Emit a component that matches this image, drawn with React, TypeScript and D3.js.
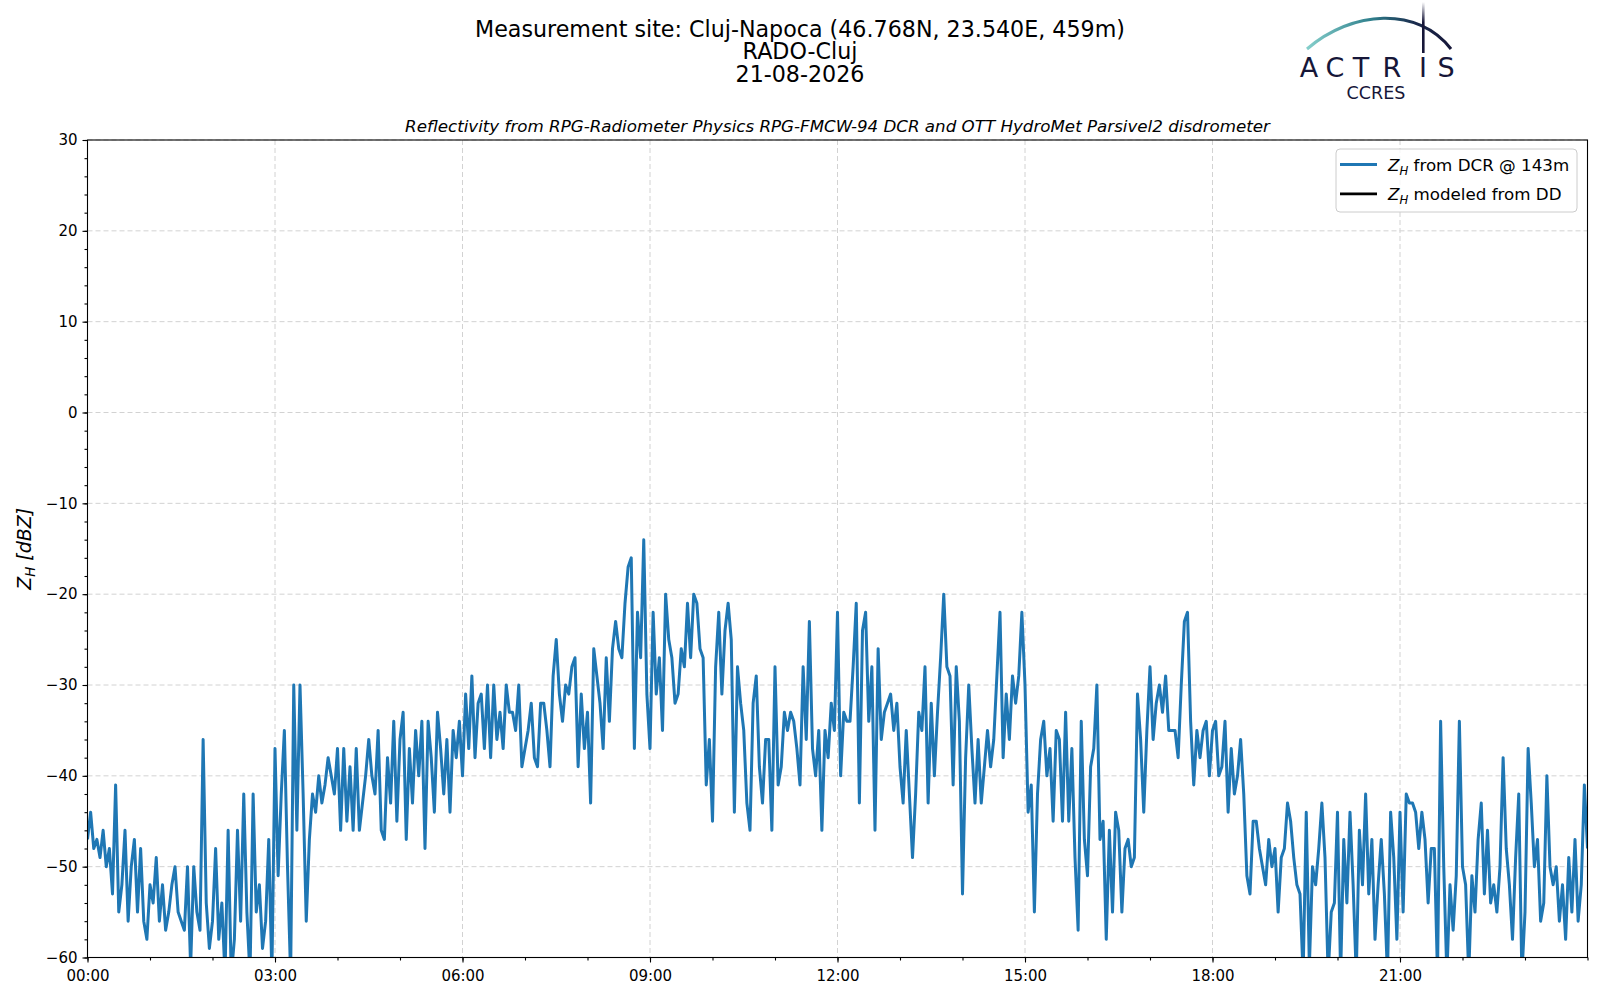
import { useEffect, useRef } from 'react';
import * as d3 from 'd3';

// Z_H from the DCR at 143 m, one value every 3 minutes
const zh00to03 = [
  -47, -44, -48, -47, -49, -46, -50, -48, -53, -41,
  -55, -52, -46, -56, -50, -47, -55, -48, -56, -58,
  -52, -54, -49, -56, -52, -57, -55, -52, -50, -55,
  -56, -57, -50, -61, -50, -55, -57, -36, -54, -59,
  -56, -48, -58, -54, -62, -46, -62, -58, -46, -56,
  -42, -55, -62, -42, -55, -52, -59, -56, -47, -62,
];
const zh03to06 = [
  -37, -51, -42, -35, -50, -62, -30, -46, -30, -42,
  -56, -47, -42, -44, -40, -43, -41, -38, -40, -42,
  -37, -46, -37, -45, -39, -46, -37, -46, -43, -40,
  -36, -40, -42, -35, -46, -47, -38, -43, -34, -45,
  -36, -33, -47, -37, -43, -35, -40, -34, -48, -34,
  -38, -44, -33, -37, -42, -36, -44, -35, -38, -34,
];
const zh06to09 = [
  -40, -31, -37, -29, -38, -32, -31, -37, -30, -38,
  -30, -36, -33, -37, -30, -33, -33, -35, -30, -39,
  -37, -35, -32, -38, -39, -32, -32, -35, -39, -29,
  -25, -31, -34, -30, -31, -28, -27, -39, -31, -37,
  -33, -43, -26, -29, -32, -37, -27, -34, -26, -23,
  -26, -27, -21, -17, -16, -37, -22, -27, -14, -31,
];
const zh09to12 = [
  -37, -22, -31, -27, -35, -20, -25, -27, -32, -31,
  -26, -28, -21, -27, -20, -21, -26, -27, -41, -36,
  -45, -28, -22, -31, -24, -21, -25, -44, -28, -32,
  -35, -43, -46, -32, -29, -39, -43, -36, -36, -46,
  -28, -41, -39, -33, -35, -33, -34, -37, -41, -28,
  -36, -23, -37, -40, -35, -46, -35, -38, -32, -35,
];
const zh12to15 = [
  -22, -40, -33, -34, -34, -28, -21, -43, -24, -22,
  -34, -28, -46, -26, -36, -33, -32, -31, -35, -32,
  -39, -43, -35, -42, -49, -42, -33, -35, -28, -43,
  -32, -40, -33, -27, -20, -28, -29, -41, -28, -34,
  -53, -38, -30, -37, -43, -36, -43, -39, -35, -39,
  -36, -29, -22, -38, -31, -36, -29, -32, -29, -22,
];
const zh15to18 = [
  -30, -44, -41, -55, -42, -36, -34, -40, -37, -45,
  -35, -36, -45, -33, -45, -37, -49, -57, -34, -47,
  -51, -39, -37, -30, -47, -45, -58, -46, -55, -44,
  -46, -55, -48, -47, -50, -49, -31, -36, -44, -35,
  -28, -36, -32, -30, -33, -29, -35, -35, -35, -38,
  -30, -23, -22, -34, -41, -35, -38, -35, -34, -40,
];
const zh18to21 = [
  -35, -34, -40, -39, -34, -44, -37, -42, -40, -36,
  -42, -51, -53, -45, -45, -48, -50, -52, -47, -50,
  -48, -55, -49, -48, -43, -45, -49, -52, -53, -62,
  -44, -61, -50, -52, -48, -43, -49, -62, -55, -54,
  -44, -62, -47, -54, -44, -52, -62, -46, -52, -42,
  -53, -47, -58, -52, -47, -53, -62, -44, -49, -58,
];
const zh21to24 = [
  -44, -55, -42, -43, -43, -44, -48, -44, -47, -54,
  -48, -48, -62, -34, -50, -62, -52, -57, -51, -34,
  -50, -52, -62, -51, -55, -47, -43, -53, -46, -54,
  -52, -55, -50, -38, -48, -52, -58, -49, -42, -62,
  -55, -37, -43, -50, -47, -56, -54, -40, -50, -52,
  -50, -56, -52, -58, -49, -55, -47, -56, -52, -41,
  -48,
];
const stepHours = 0.05;

// Z_H modeled from the disdrometer: no values on this day
const zhModelDD: number[] = [];

const yTicks = [30, 20, 10, 0, -10, -20, -30, -40, -50, -60];
const xTickHours = [0, 3, 6, 9, 12, 15, 18, 21];
const xTickLabels = ['00:00', '03:00', '06:00', '09:00', '12:00', '15:00', '18:00', '21:00'];

const titleLines = [
  'Measurement site: Cluj-Napoca (46.768N, 23.540E, 459m)',
  'RADO-Cluj',
  '21-08-2026',
];
const subtitle = 'Reflectivity from RPG-Radiometer Physics RPG-FMCW-94 DCR and OTT HydroMet Parsivel2 disdrometer';
const legendItems = [
  { label: ' from DCR @ 143m', color: '#1f77b4' },
  { label: ' modeled from DD', color: '#000000' },
];
const logoLetters = ['A', 'C', 'T', 'R', 'I', 'S'];
const logoLetterX = [1309, 1335, 1361, 1392, 1423, 1446];

export default function App() {
  const svgRef = useRef<SVGSVGElement | null>(null);

  useEffect(() => {
    if (!svgRef.current) return;
    const svg = d3.select(svgRef.current);
    svg.selectAll('*').remove();

    const width = 1600;
    const height = 1000;
    const margin = { top: 140, right: 12.5, bottom: 42.5, left: 87.5 };
    const font = "'DejaVu Sans', sans-serif";

    const series = [
      ...zh00to03, ...zh03to06, ...zh06to09, ...zh09to12,
      ...zh12to15, ...zh15to18, ...zh18to21, ...zh21to24,
    ];

    const x = d3.scaleLinear().domain([0, 24]).range([margin.left, width - margin.right]);
    const y = d3.scaleLinear().domain([-60, 30]).range([height - margin.bottom, margin.top]);

    svg.attr('width', width).attr('height', height).style('font-family', font);
    svg.append('rect').attr('width', width).attr('height', height).attr('fill', 'white');

    const defs = svg.append('defs');
    defs.append('clipPath').attr('id', 'plot-clip')
      .append('rect')
      .attr('x', x(0)).attr('y', y(30))
      .attr('width', x(24) - x(0)).attr('height', y(-60) - y(30));

    // --- GRID ---
    const grid = svg.append('g')
      .attr('stroke', '#d2d2d2')
      .attr('stroke-width', 1)
      .attr('stroke-dasharray', '5,3');
    grid.selectAll('line.gx').data(xTickHours).join('line')
      .attr('x1', d => x(d)).attr('x2', d => x(d))
      .attr('y1', y(30)).attr('y2', y(-60));
    grid.selectAll('line.gy').data(yTicks).join('line')
      .attr('x1', x(0)).attr('x2', x(24))
      .attr('y1', d => y(d)).attr('y2', d => y(d));

    // --- SERIES ---
    const line = d3.line<number>()
      .x((_, i) => x(i * stepHours))
      .y(d => y(d));
    svg.append('path')
      .datum(series)
      .attr('clip-path', 'url(#plot-clip)')
      .attr('fill', 'none')
      .attr('stroke', '#1f77b4')
      .attr('stroke-width', 3)
      .attr('stroke-linejoin', 'round')
      .attr('d', line);
    svg.append('path')
      .datum(zhModelDD)
      .attr('clip-path', 'url(#plot-clip)')
      .attr('fill', 'none')
      .attr('stroke', 'black')
      .attr('stroke-width', 3)
      .attr('d', line);

    // --- AXES ---
    const styleAxis = (g: d3.Selection<SVGGElement, unknown, null, undefined>) => {
      g.select('.domain').remove();
      g.selectAll('line').attr('stroke', 'black').attr('stroke-width', 1.1);
      g.selectAll('text').attr('fill', 'black').attr('font-size', 15).attr('font-family', font);
    };

    svg.append('g')
      .attr('transform', `translate(0,${y(-60)})`)
      .call(d3.axisBottom(x).tickValues(d3.range(0, 25, 1)).tickSize(3).tickFormat(() => ''))
      .call(styleAxis);
    svg.append('g')
      .attr('transform', `translate(0,${y(-60)})`)
      .call(d3.axisBottom(x).tickValues(xTickHours).tickSize(5).tickPadding(8)
        .tickFormat((_, i) => xTickLabels[i]))
      .call(styleAxis);

    svg.append('g')
      .attr('transform', `translate(${x(0)},0)`)
      .call(d3.axisLeft(y).tickValues(d3.range(-60, 31, 2)).tickSize(3).tickFormat(() => ''))
      .call(styleAxis);
    svg.append('g')
      .attr('transform', `translate(${x(0)},0)`)
      .call(d3.axisLeft(y).tickValues(yTicks).tickSize(5).tickPadding(5)
        .tickFormat(d => (+d < 0 ? '\u2212' + Math.abs(+d) : String(d))))
      .call(styleAxis);

    svg.append('rect')
      .attr('x', x(0)).attr('y', y(30))
      .attr('width', x(24) - x(0)).attr('height', y(-60) - y(30))
      .attr('fill', 'none').attr('stroke', 'black').attr('stroke-width', 1.1);

    // y label: Z_H [dBZ]
    const yLab = svg.append('text')
      .attr('transform', `translate(31,${(y(30) + y(-60)) / 2}) rotate(-90)`)
      .attr('text-anchor', 'middle')
      .attr('font-size', 19)
      .attr('font-style', 'italic')
      .attr('fill', 'black');
    yLab.append('tspan').text('Z');
    yLab.append('tspan').attr('font-size', 13.3).attr('dy', 4).text('H');
    yLab.append('tspan').attr('dy', -4).text('\u00a0[dBZ]');

    // --- TITLES ---
    svg.append('g').selectAll('text').data(titleLines).join('text')
      .attr('x', width / 2)
      .attr('y', (_, i) => 36.5 + i * 22.9)
      .attr('text-anchor', 'middle')
      .attr('font-size', 22.2)
      .attr('fill', 'black')
      .text(d => d);

    svg.append('text')
      .attr('x', (x(0) + x(24)) / 2)
      .attr('y', 131.5)
      .attr('text-anchor', 'middle')
      .attr('font-size', 16.7)
      .attr('font-style', 'italic')
      .attr('fill', 'black')
      .text(subtitle);

    // --- LEGEND ---
    const legendW = 241;
    const legendX = x(24) - 10.5 - legendW;
    const legendY = y(30) + 9;
    const lg = svg.append('g');
    lg.append('rect')
      .attr('x', legendX).attr('y', legendY)
      .attr('width', legendW).attr('height', 63)
      .attr('rx', 4)
      .attr('fill', 'white').attr('fill-opacity', 0.8)
      .attr('stroke', '#cccccc');
    const rows = lg.selectAll('g.row').data(legendItems).join('g')
      .attr('transform', (_, i) => `translate(${legendX + 4},${legendY + 15.5 + i * 29.3})`);
    rows.append('line')
      .attr('x1', 0).attr('x2', 37)
      .attr('stroke', d => d.color).attr('stroke-width', 2.8);
    const lt = rows.append('text')
      .attr('x', 48).attr('y', 6)
      .attr('font-size', 16.7)
      .attr('fill', 'black');
    lt.append('tspan').attr('font-style', 'italic').text('Z');
    lt.append('tspan').attr('font-style', 'italic').attr('font-size', 11.7).attr('dy', 4).text('H');
    lt.append('tspan').attr('dy', -4).text(d => '\u00a0' + d.label.trim());

    // --- LOGO ---
    const grad = defs.append('linearGradient').attr('id', 'arc-grad')
      .attr('gradientUnits', 'userSpaceOnUse')
      .attr('x1', 1306).attr('x2', 1452).attr('y1', 0).attr('y2', 0);
    grad.append('stop').attr('offset', '0%').attr('stop-color', '#86d0cc');
    grad.append('stop').attr('offset', '45%').attr('stop-color', '#2f7f8c');
    grad.append('stop').attr('offset', '75%').attr('stop-color', '#1a2a4c');
    grad.append('stop').attr('offset', '100%').attr('stop-color', '#161638');
    const vgrad = defs.append('linearGradient').attr('id', 'mast-grad')
      .attr('x1', 0).attr('x2', 0).attr('y1', 0).attr('y2', 1);
    vgrad.append('stop').attr('offset', '0%').attr('stop-color', '#161638').attr('stop-opacity', 0);
    vgrad.append('stop').attr('offset', '40%').attr('stop-color', '#161638').attr('stop-opacity', 1);
    vgrad.append('stop').attr('offset', '100%').attr('stop-color', '#161638').attr('stop-opacity', 1);

    const logo = svg.append('g');
    logo.append('path')
      .attr('d', 'M1307,49 C1352,10 1418,6 1451,49')
      .attr('fill', 'none')
      .attr('stroke', 'url(#arc-grad)')
      .attr('stroke-width', 3);
    logo.append('rect')
      .attr('x', 1422).attr('y', 2).attr('width', 2.6).attr('height', 51)
      .attr('fill', 'url(#mast-grad)');
    logo.selectAll('text.l').data(logoLetters).join('text')
      .attr('x', (_, i) => logoLetterX[i])
      .attr('y', 77)
      .attr('text-anchor', 'middle')
      .attr('font-size', 27)
      .attr('fill', '#161638')
      .text(d => d);
    logo.append('text')
      .attr('x', 1376).attr('y', 99)
      .attr('text-anchor', 'middle')
      .attr('font-size', 17.5)
      .attr('fill', '#161638')
      .text('CCRES');
  }, []);

  return <svg ref={svgRef} style={{ position: 'absolute', left: 0, top: 0 }} width={1600} height={1000}></svg>;
}
